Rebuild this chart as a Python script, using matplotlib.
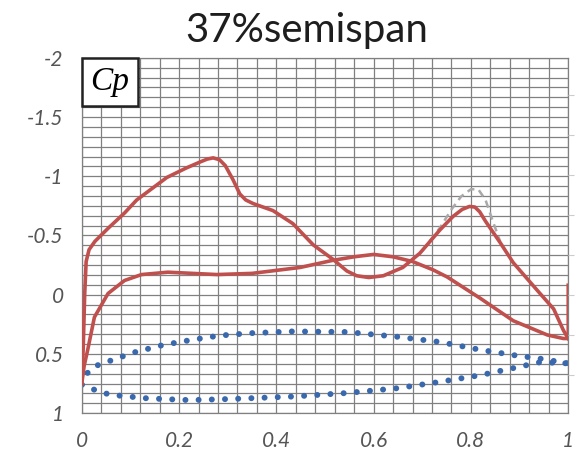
import matplotlib
matplotlib.use('Agg')
import matplotlib.pyplot as plt
import numpy as np

# Cp on the suction side
upper_x = [0.0, 0.003, 0.006, 0.009, 0.015, 0.027, 0.054, 0.088, 0.113, 0.175,
           0.215, 0.243, 0.258, 0.27, 0.283, 0.295, 0.311, 0.325, 0.337, 0.352,
           0.393, 0.434, 0.476, 0.516, 0.545, 0.565, 0.59, 0.62, 0.66, 0.695,
           0.737, 0.763, 0.782, 0.797, 0.808, 0.818, 0.83, 0.86, 0.887, 0.942,
           0.97, 0.99, 1.0]
upper_cp = [0.75, 0.45, 0.0, -0.28, -0.38, -0.45, -0.56, -0.69, -0.8, -0.99,
            -1.07, -1.12, -1.145, -1.155, -1.14, -1.09, -0.97, -0.85, -0.8, -0.77,
            -0.71, -0.6, -0.42, -0.3, -0.2, -0.16, -0.145, -0.16, -0.23, -0.35,
            -0.55, -0.66, -0.72, -0.745, -0.74, -0.7, -0.62, -0.44, -0.27, -0.01,
            0.12, 0.3, 0.37]

# Cp on the pressure side, ends with the stroke up at the trailing edge
lower_x = [0.0, 0.005, 0.012, 0.026, 0.054, 0.088, 0.123, 0.177, 0.278, 0.35,
           0.449, 0.516, 0.56, 0.6, 0.64, 0.68, 0.722, 0.751, 0.819, 0.887,
           0.957, 0.99, 1.0, 1.0]
lower_cp = [0.75, 0.6, 0.47, 0.19, -0.01, -0.12, -0.17, -0.19, -0.17, -0.18,
            -0.23, -0.29, -0.32, -0.34, -0.32, -0.28, -0.21, -0.15, 0.03, 0.22,
            0.34, 0.37, 0.37, -0.08]

# grey dashed series, only visible near the second peak
gray_x = [0.70, 0.737, 0.76, 0.78, 0.80, 0.815, 0.83, 0.845, 0.86]
gray_cp = [-0.37, -0.57, -0.72, -0.83, -0.89, -0.89, -0.80, -0.62, -0.45]

# airfoil section drawn as blue dots
foil_up_x = [0.0, 0.012, 0.023, 0.05, 0.078, 0.105, 0.167, 0.228, 0.284, 0.346,
             0.434, 0.545, 0.648, 0.737, 0.819, 0.887, 0.942, 1.0]
foil_up_y = [0.76, 0.66, 0.61, 0.57, 0.53, 0.49, 0.425, 0.38, 0.345, 0.325,
             0.31, 0.315, 0.355, 0.40, 0.465, 0.51, 0.54, 0.58]
foil_lo_x = [0.0, 0.012, 0.043, 0.072, 0.134, 0.222, 0.31, 0.434, 0.545, 0.648,
             0.73, 0.819, 0.887, 0.942, 1.0]
foil_lo_y = [0.76, 0.78, 0.83, 0.85, 0.875, 0.89, 0.88, 0.86, 0.83, 0.79,
             0.74, 0.68, 0.62, 0.57, 0.58]

x_ticks = [0, 0.2, 0.4, 0.6, 0.8, 1]
x_labels = ['0', '0.2', '0.4', '0.6', '0.8', '1']
y_ticks = [-2, -1.5, -1, -0.5, 0, 0.5, 1]
y_labels = ['-2', '-1.5', '-1', '-0.5', '0', '0.5', '1']

red = '#c0504d'
blue = '#3a68ad'

fig = plt.figure(figsize=(5.84, 4.70), dpi=100)
ax = fig.add_axes([0.140, 0.121, 0.833, 0.756])

# graph paper
for gx in np.linspace(0, 1, 26):
    ax.axvline(gx, color='#808080', lw=0.9, zorder=0)
for gy in np.linspace(-2, 1, 37):
    ax.axhline(gy, color='#808080', lw=0.9, zorder=0)

dots = (0, (0.01, 2.2))
ax.plot(foil_up_x, foil_up_y, color=blue, lw=4.3, ls=dots,
        dash_capstyle='round', zorder=2)
ax.plot(foil_lo_x, foil_lo_y, color=blue, lw=4.3, ls=dots,
        dash_capstyle='round', zorder=2)

ax.plot(gray_x, gray_cp, color='#a9a9a9', lw=1.8, ls=(0, (3, 2)), zorder=2)
ax.plot(upper_x, upper_cp, color=red, lw=2.6, zorder=3, solid_joinstyle='round')
ax.plot(lower_x, lower_cp, color=red, lw=2.6, zorder=3, solid_joinstyle='round')

ax.set_xlim(0, 1)
ax.set_ylim(1, -2)
ax.set_xticks(x_ticks)
ax.set_xticklabels(x_labels)
ax.set_yticks(y_ticks)
ax.set_yticklabels(y_labels)
ax.tick_params(length=0, labelsize=15, labelcolor='#555555', pad=13)
for lab in ax.get_xticklabels() + ax.get_yticklabels():
    lab.set_family('Lato')
    lab.set_style('italic')
for s in ax.spines.values():
    s.set_color('#808080')
    s.set_linewidth(0.9)

# faint ticks on the right edge
ax2 = ax.twinx()
ax2.set_ylim(0.05, 8.925)
ax2.set_yticks(range(1, 9))
ax2.tick_params(axis='y', length=4, color='#cccccc', labelright=False)
for s in ax2.spines.values():
    s.set_visible(False)

ax.text(0.018, -1.925, 'Cp', family='Liberation Serif', style='italic', fontsize=24,
        ha='left', va='top', zorder=5,
        bbox=dict(boxstyle='square,pad=0.25', fc='white', ec='#222222', lw=1.8))

fig.text(0.525, 0.935, '37%semispan', family='Lato', fontsize=29,
         color='#1e1e1e', ha='center', va='center')

fig.savefig('out.png', dpi=100)
